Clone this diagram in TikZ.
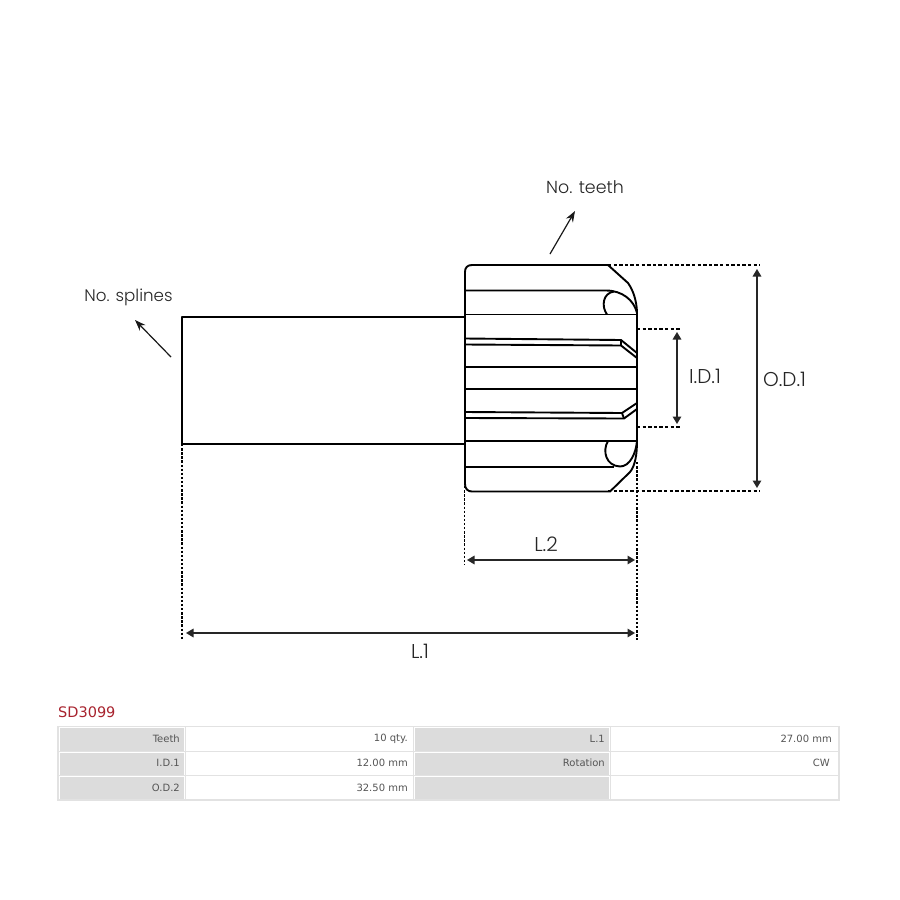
\documentclass[tikz,border=0pt]{standalone}
\usepackage{fontspec}
\setmainfont{Poppins Light}
\newfontfamily\tablefont{DejaVu Sans}
\usetikzlibrary{arrows.meta}
\definecolor{cellgray}{HTML}{DCDCDC}
\definecolor{gridgray}{HTML}{E2E2E2}
\definecolor{txtgray}{HTML}{555555}
\definecolor{titlered}{HTML}{A8232E}
\tikzset{
  part/.style={draw=black,line width=1.9pt,line join=round},
  dim/.style={draw=black,line width=1.5pt,dash pattern=on 3.4pt off 2.2pt},
  vdim/.style={draw=black,line width=1.8pt,dash pattern=on 2.4pt off 1.7pt},
  arr/.style={draw=black!85,line width=1.5pt,{Triangle[length=7.5pt,width=8.5pt]}-{Triangle[length=7.5pt,width=8.5pt]}},
  lead/.style={draw=black!90,line width=1.2pt,-{Stealth[length=11pt,width=8pt]}},
  lbl/.style={font=\fontsize{17.4}{20}\selectfont,text=black!85,inner sep=0pt},
  lbls/.style={font=\fontsize{16.7}{20}\selectfont,text=black!85,inner sep=0pt},
  lblb/.style={font=\fontsize{20}{22}\selectfont,text=black!85,inner sep=0pt},
  cellg/.style={fill=cellgray,draw=none},
  celltxt/.style={font=\tablefont\fontsize{10}{12}\selectfont,text=txtgray,inner sep=0pt,anchor=east},
}
\begin{document}
\begin{tikzpicture}[x=1pt,y=-1pt]
\useasboundingbox (0,0) rectangle (900,900);
\fill[white] (0,0) rectangle (900,900);
% shaft
\draw[part] (465,317) -- (182,317) -- (182,444) -- (465,444);
% gear outline
\draw[part] (608,265) -- (472,265) .. controls (467,265) and (465,268) .. (465,272)
  -- (465,484) .. controls (465,489) and (468,491.5) .. (472,491.5) -- (610,491.5)
  -- (630,472) .. controls (635,466) and (637,455) .. (637,441) -- (637,312)
  .. controls (636.5,300) and (633,290) .. (628,283) -- cycle;
% teeth
\draw[part] (465,290.5) -- (606,290.5) .. controls (622,290.5) and (634,300) .. (637,313);
\draw[part] (465,314.5) -- (637,314.5);
\draw[part] (607,314.5) .. controls (601,306) and (603,293) .. (614,291.5);
\draw[part] (465,338.5) -- (621,340) -- (637,353);
\draw[part] (465,344.5) -- (621,345.5) -- (637,358);
\draw[part] (621,340) -- (621,345.5);
\draw[part] (465,367) -- (637,367);
\draw[part] (465,389) -- (637,389);
\draw[part] (465,412) -- (622,413) -- (637,403);
\draw[part] (465,418) -- (624,418.5) -- (637,409);
\draw[part] (622,413) -- (624,418.5);
\draw[part] (465,441) -- (637,441);
\draw[part] (465,467) -- (614,467);
\draw[part] (608,441) .. controls (602,451) and (606,466) .. (620,466.5)
  .. controls (630,466.5) and (636,453) .. (637,441);
% extension lines
\coordinate (sl) at (182,444); \coordinate (sle) at (182,640);
\coordinate (gl) at (464.5,486); \coordinate (gle) at (464.5,565);
\coordinate (gr) at (637,462); \coordinate (gre) at (637,640);
\draw[vdim] (sl) -- (sle);
\draw[vdim] (gl) -- (gle);
\draw[vdim] (gr) -- (gre);
\draw[dim] (608,265) -- (760,265);
\draw[dim] (608,491) -- (760,491);
\draw[dim] (637,329) -- (680,329);
\draw[dim] (637,427) -- (680,427);
% dimension arrows
\coordinate (odt) at (757,269); \coordinate (odb) at (757,488);
\coordinate (idt) at (677,332); \coordinate (idb) at (677,424);
\coordinate (l2a) at (467,560); \coordinate (l2b) at (635,560);
\coordinate (l1a) at (186,633); \coordinate (l1b) at (635,633);
\draw[arr] (odt) -- (odb);
\draw[arr] (idt) -- (idb);
\draw[arr] (l2a) -- (l2b);
\draw[arr] (l1a) -- (l1b);
\coordinate (tA) at (550,254); \coordinate (tB) at (575,211);
\coordinate (sA) at (171,357); \coordinate (sB) at (135,320);
\draw[lead] (tA) -- (tB);
\draw[lead] (sA) -- (sB);
% labels
\node[lbl] (nt) at (585,187) {No. teeth};
\node[lbls] (ns) at (128.5,297) {No. splines};
\node[lblb] (id) at (705,376) {I.D.1};
\node[lblb] (od) at (784.5,379) {O.D.1};
\node[lblb] (l2) at (546,544) {L.2};
\node[lblb] (l1) at (420,651) {L.1};
% table
\node[anchor=west,inner sep=0pt,font=\tablefont\fontsize{14.5}{18}\selectfont,text=titlered] (title) at (58,712.5) {SD3099};
\draw[gridgray,line width=1.2pt] (58,726.5) rectangle (839,800);
\fill[cellg] (59.5,728) rectangle (183.5,750.5);
\fill[cellg] (59.5,753) rectangle (183.5,774.5);
\fill[cellg] (59.5,777) rectangle (183.5,798.5);
\fill[cellg] (415,728) rectangle (608.5,750.5);
\fill[cellg] (415,753) rectangle (608.5,774.5);
\fill[cellg] (415,777) rectangle (608.5,798.5);
\draw[gridgray,line width=1pt] (58,751.5) -- (839,751.5);
\draw[gridgray,line width=1pt] (58,775.5) -- (839,775.5);
\draw[gridgray,line width=1pt] (185,726.5) -- (185,800);
\draw[gridgray,line width=1pt] (413.5,726.5) -- (413.5,800);
\draw[gridgray,line width=1pt] (610,726.5) -- (610,800);
\node[celltxt] (a1) at (180,738.5) {Teeth};
\node[celltxt] (a2) at (408,738.5) {10 qty.};
\node[celltxt] (a3) at (605,738.5) {L.1};
\node[celltxt] (a4) at (832,738.5) {27.00 mm};
\node[celltxt] (b1) at (180,763) {I.D.1};
\node[celltxt] (b2) at (408,763) {12.00 mm};
\node[celltxt] (b3) at (605,763) {Rotation};
\node[celltxt] (b4) at (830,763) {CW};
\node[celltxt] (c1) at (180,787.5) {O.D.2};
\node[celltxt] (c2) at (408,787.5) {32.50 mm};
\end{tikzpicture}
\end{document}
